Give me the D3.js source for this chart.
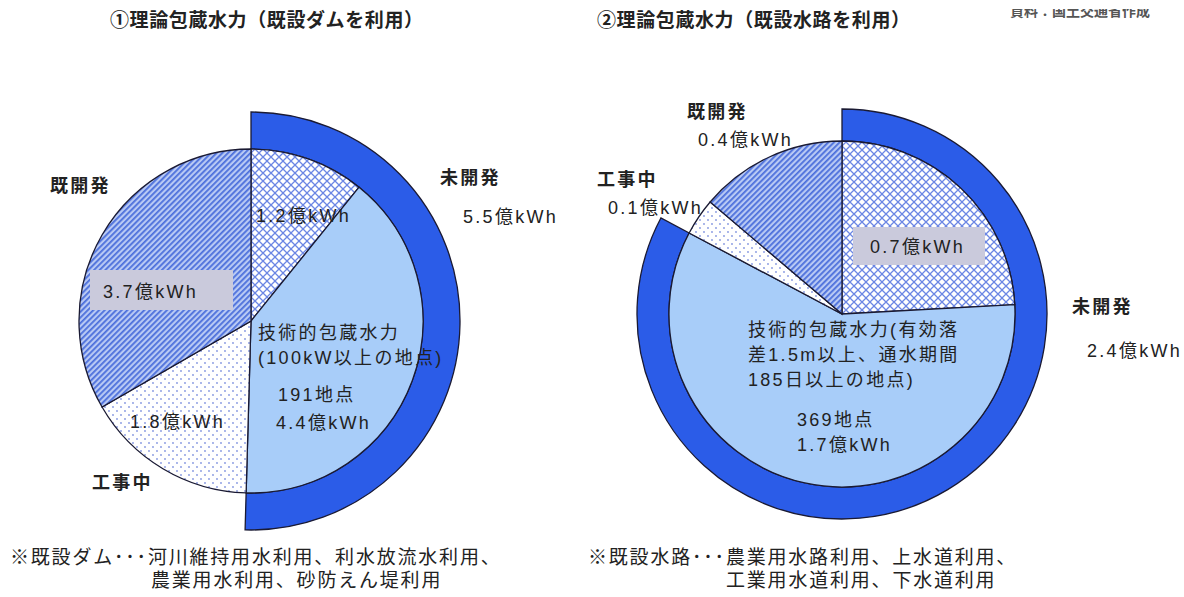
<!DOCTYPE html>
<html>
<head>
<meta charset="utf-8">
<script src="https://cdn.jsdelivr.net/npm/d3@7"></script>
<style>
  body { margin: 0; background: #fff; }
  text { font-family: "Liberation Sans", "Noto Sans CJK JP", sans-serif; fill: #222; }
</style>
</head>
<body>
<div id="chart"></div>
<script>
// slice order, clockwise from 12 o'clock
const sliceKeys = ["other", "tech", "construction", "developed"];
const damValues = [1.2, 4.4, 1.8, 3.7];     // 億kWh
const canalValues = [0.7, 1.7, 0.1, 0.4];   // 億kWh
const undevelopedValues = [5.5, 2.4];
const pointCounts = [191, 369];

const titles = ["①理論包蔵水力（既設ダムを利用）", "②理論包蔵水力（既設水路を利用）"];
const notesDam = ["※既設ダム･･･河川維持用水利用、利水放流水利用、", "農業用水利用、砂防えん堤利用"];
const notesCanal = ["※既設水路･･･農業用水路利用、上水道利用、", "工業用水道利用、下水道利用"];
const fmt = v => d3.format(".1f")(v) + "億kWh";

const width = 1184, height = 597;

const svg = d3.select("#chart")
  .append("svg")
    .attr("width", width)
    .attr("height", height);

//patterns
const defs = svg.append("defs");

const hatch = defs.append("pattern")
  .attr("id", "hatch")
  .attr("patternUnits", "userSpaceOnUse")
  .attr("width", 4).attr("height", 4)
  .attr("patternTransform", "rotate(45)");
hatch.append("rect").attr("width", 4).attr("height", 4).attr("fill", "#b8c9f4");
hatch.append("rect").attr("width", 1.8).attr("height", 4).attr("fill", "#4c6fdb");

const cross = defs.append("pattern")
  .attr("id", "cross")
  .attr("patternUnits", "userSpaceOnUse")
  .attr("width", 8).attr("height", 8);
cross.append("rect").attr("width", 8).attr("height", 8).attr("fill", "#fff");
cross.append("path").attr("d", "M0,0L8,8M8,0L0,8")
  .attr("stroke", "#6b86e4").attr("stroke-width", 1.3);

const dots = defs.append("pattern")
  .attr("id", "dots")
  .attr("patternUnits", "userSpaceOnUse")
  .attr("width", 8).attr("height", 8);
dots.append("rect").attr("width", 8).attr("height", 8).attr("fill", "#fff");
dots.append("circle").attr("cx", 2).attr("cy", 2).attr("r", 0.9).attr("fill", "#8396e0");
dots.append("circle").attr("cx", 6).attr("cy", 6).attr("r", 0.9).attr("fill", "#8396e0");

const fills = {other: "url(#cross)", tech: "#a8cdf9", construction: "url(#dots)", developed: "url(#hatch)"};

const pie = d3.pie().sort(null).value(d => d.value);

function drawPie(cx, cy, r, R, values) {
  const g = svg.append("g").attr("transform", `translate(${cx},${cy})`);
  const arcs = pie(values.map((v, i) => ({key: sliceKeys[i], value: v})));

  //outer ring for 未開発, covering the first two slices
  const ringEnd = arcs[1].endAngle;
  g.append("path")
    .attr("d", d3.arc()({innerRadius: r, outerRadius: R, startAngle: 0, endAngle: ringEnd}))
    .attr("fill", "#2b5ce8")
    .attr("stroke", "#1a1a33")
    .attr("stroke-width", 1.3);

  g.selectAll(".slice")
    .data(arcs)
    .join("path")
      .attr("class", "slice")
      .attr("d", d3.arc().innerRadius(0).outerRadius(r))
      .attr("fill", d => fills[d.data.key])
      .attr("stroke", "#1a1a33")
      .attr("stroke-width", 1.3);
  return g;
}

function label(x, y, txt, bold) {
  svg.append("text")
    .attr("x", x).attr("y", y)
    .attr("dy", "0.35em")
    .style("font-size", "18px")
    .style("letter-spacing", "2.3px")
    .style("font-weight", bold ? "bold" : "normal")
    .text(txt);
}

function box(x, y, w, h) {
  svg.append("rect")
    .attr("x", x).attr("y", y)
    .attr("width", w).attr("height", h)
    .attr("fill", "#cacadc");
}

// left chart: existing dams
const L = {x: 251, y: 321};
drawPie(L.x, L.y, 172, 209, damValues);
box(L.x - 161, L.y - 51, 143, 40);
label(L.x - 148, L.y - 29, fmt(damValues[3]));
label(L.x - 201, L.y - 135, "既開発", true);
label(L.x + 189, L.y - 143, "未開発", true);
label(L.x + 212, L.y - 104, fmt(undevelopedValues[0]));
label(L.x + 5, L.y - 105, fmt(damValues[0]));
label(L.x + 7, L.y + 12, "技術的包蔵水力");
label(L.x + 7, L.y + 37, "(100kW以上の地点)");
label(L.x + 27, L.y + 74, pointCounts[0] + "地点");
label(L.x + 25, L.y + 102, fmt(damValues[1]));
label(L.x - 121, L.y + 101, fmt(damValues[2]));
label(L.x - 159, L.y + 162, "工事中", true);

// right chart: existing canals
const Rc = {x: 842, y: 314};
drawPie(Rc.x, Rc.y, 173, 205, canalValues);
box(Rc.x + 11, Rc.y - 87, 132, 38);
label(Rc.x + 28, Rc.y - 67, fmt(canalValues[0]));
label(Rc.x - 155, Rc.y - 202, "既開発", true);
label(Rc.x - 144, Rc.y - 174, fmt(canalValues[3]));
label(Rc.x - 245, Rc.y - 134, "工事中", true);
label(Rc.x - 234, Rc.y - 106, fmt(canalValues[2]));
label(Rc.x + 230, Rc.y - 7, "未開発", true);
label(Rc.x + 245, Rc.y + 37, fmt(undevelopedValues[1]));
label(Rc.x - 94, Rc.y + 16, "技術的包蔵水力(有効落");
label(Rc.x - 94, Rc.y + 41, "差1.5m以上、通水期間");
label(Rc.x - 94, Rc.y + 66, "185日以上の地点)");
label(Rc.x - 45, Rc.y + 106, pointCounts[1] + "地点");
label(Rc.x - 45, Rc.y + 131, fmt(canalValues[1]));

//titles
svg.selectAll(".title")
  .data(titles)
  .join("text")
    .attr("class", "title")
    .attr("x", (d, i) => i === 0 ? 110 : 597)
    .attr("y", 20)
    .attr("dy", "0.35em")
    .style("font-size", "19px")
    .style("font-weight", "bold")
    .style("letter-spacing", "0.6px")
    .text(d => d);

//source note, cut at the top edge
defs.append("clipPath").attr("id", "srcClip")
  .append("rect").attr("x", 1000).attr("y", 9).attr("width", 184).attr("height", 20);
svg.append("text")
  .attr("clip-path", "url(#srcClip)")
  .attr("x", 1010).attr("y", 16)
  .style("font-size", "14px")
  .style("font-weight", "bold")
  .style("fill", "#555")
  .text("資料：国土交通省作成");

//footnotes
function note(lines, x1, x2) {
  svg.append("text").attr("x", x1).attr("y", 557).attr("dy", "0.35em")
    .style("font-size", "19px").style("letter-spacing", "1.8px").text(lines[0]);
  svg.append("text").attr("x", x2).attr("y", 580).attr("dy", "0.35em")
    .style("font-size", "19px").style("letter-spacing", "1.8px").text(lines[1]);
}
note(notesDam, 10, 151);
note(notesCanal, 588, 726);
</script>
</body>
</html>
